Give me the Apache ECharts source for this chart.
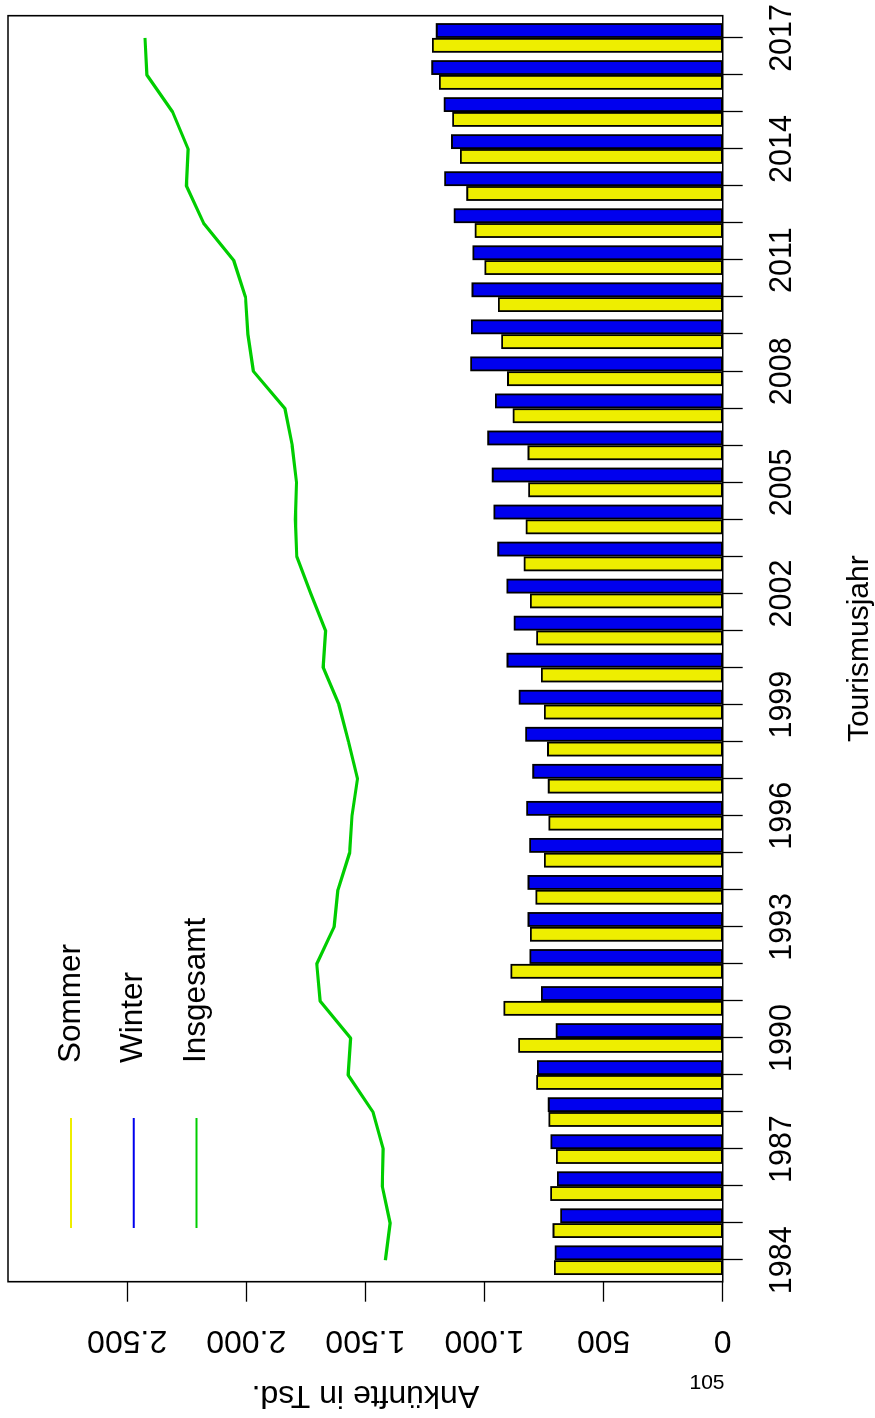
<!DOCTYPE html>
<html>
<head>
<meta charset="utf-8">
<script src="https://cdn.jsdelivr.net/npm/echarts@6/dist/echarts.min.js"></script>
<style>
html, body { margin: 0; padding: 0; background: #fff; overflow: hidden; width: 875px; height: 1418px; }
#chart { position: absolute; left: 0; top: 0; width: 1418px; height: 875px;
  transform-origin: 0 0; transform: translate(0, 1418px) rotate(-90deg); }
</style>
</head>
<body>
<div id="chart"></div>
<script>
// ---- data (Ankünfte in Tsd.) ----
const years = [1984,1985,1986,1987,1988,1989,1990,1991,1992,1993,1994,1995,1996,1997,1998,1999,2000,
               2001,2002,2003,2004,2005,2006,2007,2008,2009,2010,2011,2012,2013,2014,2015,2016,2017];
const tickLabelYears = [1984,1987,1990,1993,1996,1999,2002,2005,2008,2011,2014,2017];
const valueTicks = [0,500,1000,1500,2000,2500];
const sommer = [708,714,724,700,731,783,858,920,891,809,786,750,731,734,737,750,763,
                783,809,835,827,816,819,881,905,930,943,1000,1041,1076,1103,1135,1191,1220];
const winter = [705,682,696,723,734,780,701,763,811,819,819,812,825,799,829,856,907,
                877,908,946,962,969,988,956,1060,1057,1054,1050,1129,1169,1140,1171,1223,1204];
const insgesamt = [1416,1396,1429,1425,1468,1572,1562,1690,1704,1631,1615,1566,1556,1533,1571,1611,1677,
                   1667,1729,1788,1794,1789,1807,1838,1970,1993,2003,2053,2179,2251,2244,2309,2417,2425];
const seriesNames = ['Sommer', 'Winter', 'Insgesamt'];
const colors = { Sommer: '#EEEE00', Winter: '#0000EE', Insgesamt: '#00CD00' };

const FONT = "'Liberation Sans', Arial, Helvetica, sans-serif";
const fmt = v => v >= 1000 ? Math.floor(v / 1000) + '.' + String(v % 1000).padStart(3, '0') : String(v);
const pairs = arr => years.map((y, i) => [y, arr[i]]);

const chart = echarts.init(document.getElementById('chart'), null, { renderer: 'canvas' });
chart.setOption({
  animation: false,
  backgroundColor: '#fff',
  textStyle: { fontFamily: FONT, color: '#000' },
  grid: {
    left: 136.3, right: 15.7, top: 8, bottom: 152.3,
    show: true, borderColor: '#000', borderWidth: 1.6, backgroundColor: 'transparent',
    containLabel: false, outerBoundsMode: 'none'
  },
  legend: {
    orient: 'vertical', left: 190, top: 55, padding: 0,
    itemWidth: 110, itemHeight: 2, itemGap: 30.7, icon: 'rect',
    selectedMode: false,
    itemStyle: { borderWidth: 0 },
    textStyle: { fontSize: 31.5, lineHeight: 32, color: '#000', fontFamily: FONT, padding: [0, 0, 0, 50] },
    data: seriesNames.map(n => ({ name: n, itemStyle: { color: colors[n], borderWidth: 0 } }))
  },
  xAxis: {
    type: 'value', min: 1983.42, max: 2017.6,
    axisLine: { show: false }, splitLine: { show: false },
    axisTick: { show: true, length: 20, lineStyle: { color: '#000', width: 1.3 }, customValues: years },
    axisLabel: { customValues: tickLabelYears, formatter: v => String(v), fontSize: 30.5,
                 color: '#000', margin: 44, fontFamily: FONT },
    name: 'Tourismusjahr', nameLocation: 'middle', nameGap: 122, nameMoveOverlap: false,
    nameTextStyle: { fontSize: 30, color: '#000', fontFamily: FONT }
  },
  yAxis: {
    type: 'value', min: 0, max: 3000, interval: 500,
    axisLine: { show: false }, splitLine: { show: false },
    axisTick: { show: true, length: 20, lineStyle: { color: '#000', width: 1.3 }, customValues: valueTicks },
    axisLabel: { customValues: valueTicks, formatter: fmt, rotate: 90, fontSize: 32,
                 color: '#000', margin: 42, fontFamily: FONT },
    name: 'Ankünfte in Tsd.', nameLocation: 'middle', nameRotate: 90, nameGap: 97, nameMoveOverlap: false,
    nameTextStyle: { fontSize: 32, color: '#000', fontFamily: FONT }
  },
  graphic: [{
    type: 'text', x: 35, y: 707, rotation: -Math.PI / 2, silent: true,
    style: { text: '105', fontSize: 21, fill: '#000', align: 'center', verticalAlign: 'middle', fontFamily: FONT }
  }],
  series: [
    { name: 'Sommer', type: 'bar', data: pairs(sommer), barWidth: 14.8, barGap: '0%', silent: true,
      itemStyle: { color: colors.Sommer, borderColor: '#000', borderWidth: 1.8 } },
    { name: 'Winter', type: 'bar', data: pairs(winter), barWidth: 14.8, barGap: '0%', silent: true,
      itemStyle: { color: colors.Winter, borderColor: '#000', borderWidth: 1.8 } },
    { name: 'Insgesamt', type: 'line', data: pairs(insgesamt), showSymbol: false, symbol: 'none', silent: true,
      itemStyle: { color: colors.Insgesamt }, lineStyle: { color: colors.Insgesamt, width: 3.2 }, z: 3 }
  ]
});
</script>
</body>
</html>
